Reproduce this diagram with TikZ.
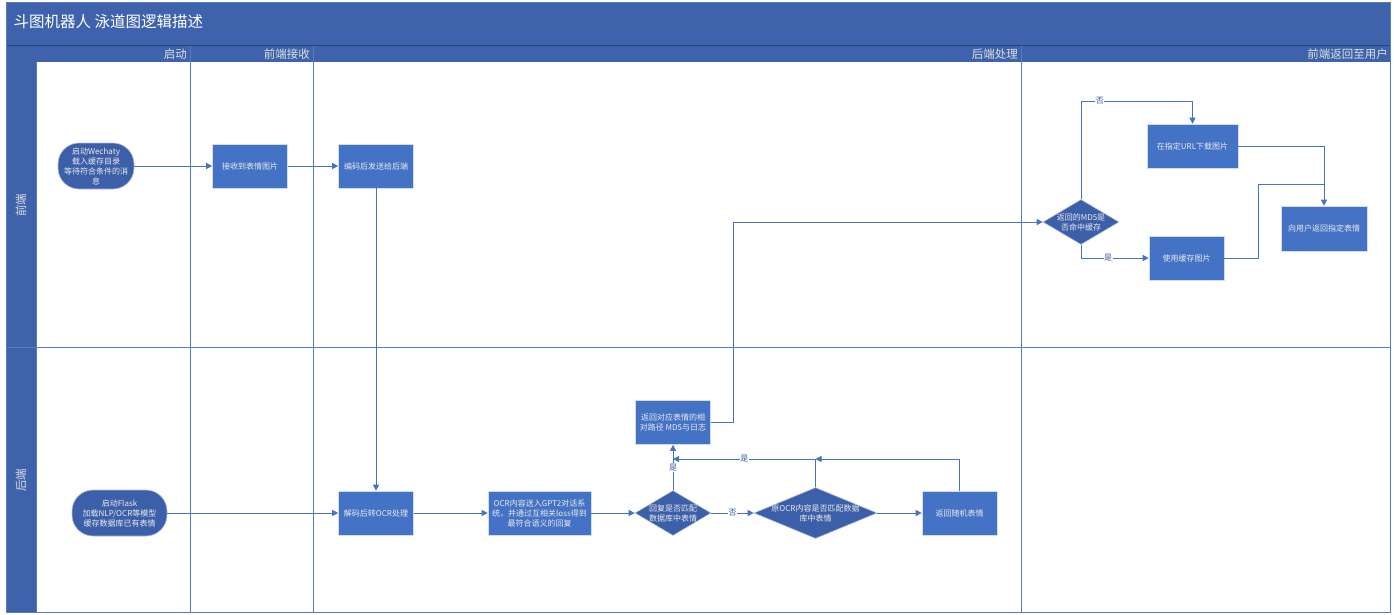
\documentclass[tikz,border=0pt]{standalone}
\usepackage{fontspec}
\setmainfont{Noto Sans CJK SC}
\usepackage{tikz}
\usetikzlibrary{shapes,positioning}
\usetikzlibrary{calc}
\usetikzlibrary{arrows.meta}
\definecolor{bandeau}{HTML}{3E63AC}
\definecolor{boite}{HTML}{4472C4}
\definecolor{sombre}{HTML}{3B5FA9}
\definecolor{trait}{HTML}{4472C4}
\definecolor{grille}{HTML}{5B7BBF}
\tikzset{
	txt/.style={text=white!92!black, font=\fontsize{8}{10}\selectfont, align=center},
	boite/.style={txt, fill=boite, draw=white!75!boite, line width=0.6pt, minimum width=75pt, minimum height=44pt, inner sep=1pt},
	debut/.style={txt, fill=sombre, draw=white!60!sombre, line width=0.6pt, rounded corners=21pt, minimum height=46pt, inner sep=1pt},
	losange/.style={txt, diamond, aspect=1.7, fill=sombre, draw=white!60!sombre, line width=0.6pt, inner sep=-3pt},
	lien/.style={draw=trait, line width=0.9pt},
	fleche/.style={lien, -{Triangle[length=6pt,width=6pt]}},
	etiq/.style={fill=white, inner sep=0.5pt, text=trait!80!black, font=\fontsize{8}{9}\selectfont},
	entete/.style={text=white!88!black, font=\fontsize{11.5}{13}\selectfont, anchor=east, inner sep=1pt}
}

\begin{document}
\begin{tikzpicture}[x=1pt,y=-1pt]
	\def\gauche{6}
	\def\droite{1390}
	\def\haut{2}
	\def\bas{612}
	\def\yTitre{45}
	\def\yEntete{62}
	\def\yCouloir{347}
\useasboundingbox (0,0) rectangle (1394,614); % Fixe le cadre de l'image

%Cadre et bandeaux
\fill[white] (\gauche,\haut) rectangle (\droite,\bas);
\fill[bandeau] (\gauche,\haut) rectangle (\droite,\yTitre);
\fill[bandeau] (\gauche,\yTitre+1) rectangle (\droite,\yEntete);
\fill[bandeau] (\gauche,\yEntete) rectangle (36,\bas);
\draw[bandeau!70!black, line width=0.6pt] (\gauche,\yTitre+0.5) -- (\droite,\yTitre+0.5);

%Separations des colonnes et des couloirs
\foreach \x in {190,313,1021}
	\draw[grille, line width=0.8pt] (\x,\yTitre+1) -- (\x,\bas);
\draw[grille, line width=0.9pt] (\gauche,\yCouloir) -- (\droite,\yCouloir);
\draw[grille, line width=0.8pt] (36,\yEntete) -- (36,\bas);
\draw[grille, line width=0.9pt] (\gauche,\haut) rectangle (\droite,\bas);

%Titres
\node[anchor=west, text=white, font=\fontsize{15.5}{18}\selectfont] (titre) at (10,22) {斗图机器人 泳道图逻辑描述};
\node[entete] (hDebut) at (188,54) {启动};
\node[entete] (hRecep) at (311,54) {前端接收};
\node[entete] (hTraite) at (1019,54) {后端处理};
\node[entete] (hRetour) at (1389,54) {前端返回至用户};
\node[entete, anchor=center, rotate=90] (cFront) at (21,205) {前端};
\node[entete, anchor=center, rotate=90] (cBack) at (21,480) {后端};

%Couloir du front
\node[debut, minimum width=76pt] (wechaty) at (96,166) {启动Wechaty\\载入缓存目录\\等待符合条件的消\\息};
\node[boite] (recv) at (250,166) {接收到表情图片};
\node[boite] (encode) at (376,166) {编码后发送给后端};
\node[losange, minimum width=76pt, minimum height=45pt] (hitMD5) at (1081,222) {返回的MD5是\\否命中缓存};
\node[boite, minimum width=91pt] (download) at (1192.5,146) {在指定URL下载图片};
\node[boite] (useCache) at (1186.5,258) {使用缓存图片};
\node[boite, minimum width=86pt, minimum height=45pt] (toUser) at (1324,228.5) {向用户返回指定表情};

%Couloir du back
\node[debut, minimum width=95pt] (flask) at (119.5,513) {启动Flask\\加载NLP/OCR等模型\\缓存数据库已有表情};
\node[boite] (decode) at (376,513) {解码后转OCR处理};
\node[boite, minimum width=103pt] (gpt) at (539.5,513) {OCR内容送入GPT2对话系\\统，并通过互相关loss得到\\最符合语义的回复};
\node[losange, minimum width=76pt, minimum height=45pt] (matchRep) at (673,513) {回复是否匹配\\数据库中表情};
\node[losange, aspect=2.4, minimum width=123pt, minimum height=51pt] (matchOcr) at (815.5,513) {原OCR内容是否匹配数据\\库中表情};
\node[boite] (random) at (959.5,513) {返回随机表情};
\node[boite] (retour) at (673,422.5) {返回对应表情的相\\对路径 MD5与日志};

%Points de jonction
\coordinate (jOui) at (673,459);
\coordinate (jHasard) at (815.5,459);
\coordinate (jNon) at (1081,101);
\coordinate (jUser) at (1324,184);

%Liens
\draw[fleche] (wechaty) -- (recv);
\draw[fleche] (recv) -- (encode);
\draw[fleche] (encode) -- (decode);
\draw[fleche] (flask) -- (decode);
\draw[fleche] (decode) -- (gpt);
\draw[fleche] (gpt) -- (matchRep);
\draw[fleche] (matchRep) -- node[etiq] {否} (matchOcr);
\draw[fleche] (matchOcr) -- (random);
\draw[fleche] (matchRep) -- node[etiq] {是} (retour);
\draw[fleche] (matchOcr.north) |- node[etiq, pos=0.75] {是} (jOui);
\draw[fleche] (random.north) |- (jHasard);
\draw[fleche] (retour.east) -- ++(23,0) |- (hitMD5.west);
\draw[fleche] (hitMD5.north) -- (jNon) -| node[etiq, pos=0.085] {否} (download.north);
\draw[fleche] (hitMD5.south) |- node[etiq, pos=0.7] {是} (useCache.west);
\draw[fleche] (download.east) -| (toUser.north);
\draw[lien] (useCache.east) -- ++(34,0) |- (jUser);

\end{tikzpicture}
\end{document}
